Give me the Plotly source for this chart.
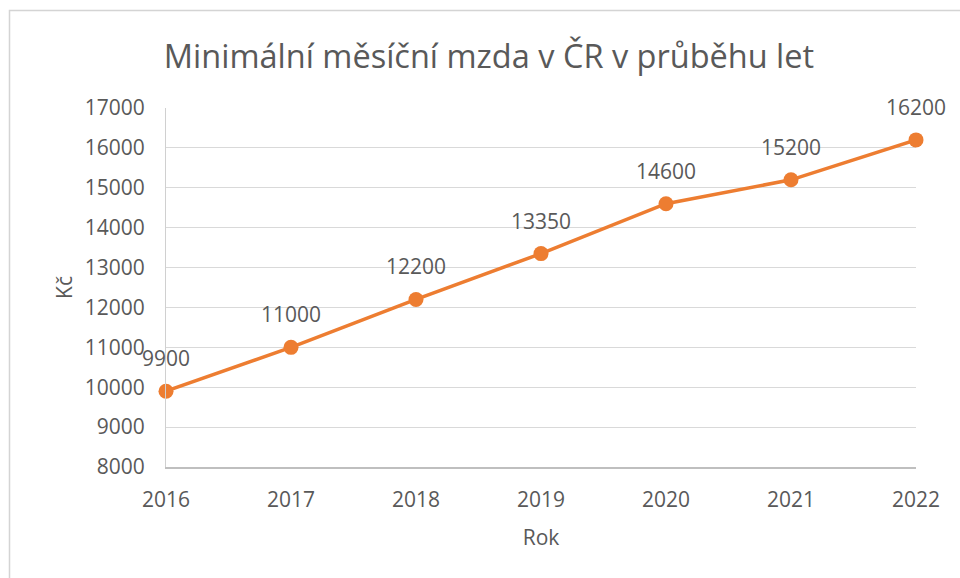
import plotly.graph_objects as go

# data
roky = ["2016", "2017", "2018", "2019", "2020", "2021", "2022"]
mzda = [9900, 11000, 12200, 13350, 14600, 15200, 16200]

oranzova = "#ED7D31"
seda_text = "#595959"
font_name = "Open Sans"

fig = go.Figure()

fig.add_trace(go.Scatter(
    x=roky,
    y=mzda,
    mode="lines+markers",
    line=dict(color=oranzova, width=3.5),
    marker=dict(color=oranzova, size=15),
    cliponaxis=False,
    showlegend=False,
    hoverinfo="x+y",
))

# popisky hodnot nad body (x jako index kategorie)
for i, hodnota in enumerate(mzda):
    fig.add_annotation(
        x=i, y=hodnota, text=str(hodnota),
        showarrow=False, yshift=33,
        font=dict(family=font_name, size=21, color=seda_text),
    )

# ramecek grafu
fig.add_shape(
    type="rect", xref="paper", yref="paper",
    x0=(9.5 - 166) / 750, x1=1.2,
    y0=-0.5, y1=1 + (108 - 10.5) / 359,
    line=dict(color="#d4d4d4", width=1.5),
    fillcolor="rgba(0,0,0,0)",
    layer="below",
)

fig.update_layout(
    width=960,
    height=578,
    margin=dict(l=166, r=44, t=108, b=111),
    paper_bgcolor="white",
    plot_bgcolor="white",
    font=dict(family=font_name, size=21, color=seda_text),
    title=dict(
        text="Minimální měsíční mzda v ČR v průběhu let",
        x=489 / 960,
        xanchor="center",
        y=1 - 57 / 578,
        yanchor="middle",
        font=dict(family=font_name, size=32.5, color=seda_text),
    ),
    xaxis=dict(
        type="category",
        range=[0, 6],
        showgrid=False,
        showline=True,
        linecolor="#bfbfbf",
        linewidth=1.5,
        ticks="",
        ticklabelstandoff=13,
        title=dict(text="Rok", standoff=18,
                   font=dict(family=font_name, size=21, color=seda_text)),
        tickfont=dict(family=font_name, size=21, color=seda_text),
    ),
    yaxis=dict(
        range=[8000, 17000],
        dtick=1000,
        tickformat="d",
        showgrid=True,
        gridcolor="#d9d9d9",
        gridwidth=1.2,
        showline=True,
        linecolor="#d0d0d0",
        linewidth=1.2,
        zeroline=False,
        ticks="",
        ticklabelstandoff=16,
        title=dict(text="Kč", standoff=6,
                   font=dict(family=font_name, size=21, color=seda_text)),
        tickfont=dict(family=font_name, size=21, color=seda_text),
    ),
)

fig.write_html(
    "out.html",
    config={"displayModeBar": False},
    post_script="document.body.style.margin='0';",
)
